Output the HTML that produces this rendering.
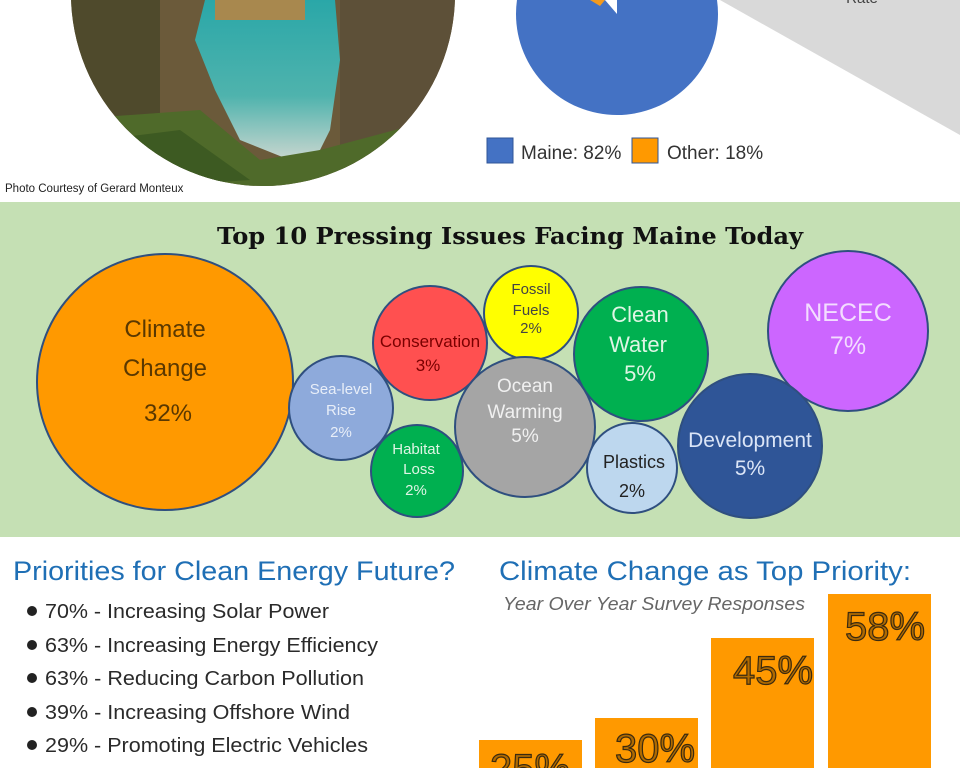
<!DOCTYPE html>
<html><head><meta charset="utf-8"><style>body{margin:0;background:#fff}svg{display:block}</style></head><body>
<svg width="960" height="768" viewBox="0 0 960 768" xmlns="http://www.w3.org/2000/svg">
<defs>
<clipPath id="ph"><circle cx="263" cy="-6" r="192"/></clipPath>
<linearGradient id="sea" x1="0" y1="0" x2="0" y2="1"><stop offset="0" stop-color="#2aa7a8"/><stop offset="0.6" stop-color="#4fb3ad"/><stop offset="1" stop-color="#c9d6cf"/></linearGradient>
</defs>
<rect width="960" height="768" fill="#fff"/>
<!-- photo -->
<g clip-path="url(#ph)">
<rect x="60" y="0" width="410" height="200" fill="#6b5a3a"/>
<rect x="60" y="0" width="100" height="200" fill="#4f4a2c"/>
<rect x="340" y="0" width="130" height="200" fill="#5d5038"/>
<polygon points="205,0 335,0 340,60 330,130 320,150 290,160 240,140 215,90 195,40" fill="url(#sea)"/>
<rect x="215" y="0" width="90" height="20" fill="#a8884e"/>
<polygon points="60,120 200,110 260,160 320,150 470,110 470,200 60,200" fill="#4f6a2a"/>
<polygon points="100,140 180,130 250,180 100,190" fill="#3d5a22"/>
</g>
<!-- pie -->
<circle cx="617" cy="14" r="101" fill="#4472c4"/>
<polygon points="605,0 617,14 617,0" fill="#fff"/>
<polygon points="590,0 605,0 600,6" fill="#f39a1e"/>
<polygon points="720,0 960,0 960,135" fill="#d9d9d9"/>
<text x="862" y="3" font-family="Liberation Sans Narrow, Liberation Sans, sans-serif" font-size="15" fill="#444" text-anchor="middle">Rate</text>
<rect x="487" y="138" width="26" height="25" fill="#4472c4" stroke="#2f5597"/>
<text x="521" y="159" font-family="Liberation Sans Narrow, Liberation Sans, sans-serif" font-size="19" fill="#333">Maine: 82%</text>
<rect x="632" y="138" width="26" height="25" fill="#ff9900" stroke="#2f5597"/>
<text x="667" y="159" font-family="Liberation Sans Narrow, Liberation Sans, sans-serif" font-size="19" fill="#333">Other: 18%</text>
<text x="5" y="192" font-family="Liberation Sans Narrow, Liberation Sans, sans-serif" font-size="11.5" fill="#222">Photo Courtesy of Gerard Monteux</text>
<!-- bubble band -->
<rect x="0" y="202" width="960" height="335" fill="#c5e0b4"/>
<text x="510" y="244" font-family="DejaVu Serif, Liberation Serif, serif" font-weight="bold" font-size="23" fill="#111" text-anchor="middle" textLength="586" lengthAdjust="spacingAndGlyphs">Top 10 Pressing Issues Facing Maine Today</text>
<g stroke="#2f4f7f" stroke-width="2" font-family="Liberation Sans Narrow, Liberation Sans, sans-serif" text-anchor="middle">
<circle cx="165" cy="382" r="128" fill="#ff9900"/>
<circle cx="341" cy="408" r="52" fill="#8eaadb"/>
<circle cx="430" cy="343" r="57" fill="#ff5050"/>
<circle cx="531" cy="313" r="47" fill="#ffff00"/>
<circle cx="641" cy="354" r="67" fill="#00b050"/>
<circle cx="848" cy="331" r="80" fill="#cc66ff"/>
<circle cx="525" cy="427" r="70" fill="#a5a5a5"/>
<circle cx="417" cy="471" r="46" fill="#00b050"/>
<circle cx="632" cy="468" r="45" fill="#bdd7ee"/>
<circle cx="750" cy="446" r="72" fill="#2f5597"/>
</g>
<g font-family="Liberation Sans Narrow, Liberation Sans, sans-serif" text-anchor="middle">
<g fill="#5a3800" font-size="24"><text x="165" y="337">Climate</text><text x="165" y="376">Change</text><text x="168" y="421">32%</text></g>
<g fill="#e8eef8" font-size="15"><text x="341" y="394">Sea-level</text><text x="341" y="415">Rise</text><text x="341" y="437">2%</text></g>
<g fill="#7a0000" font-size="17"><text x="430" y="347">Conservation</text><text x="428" y="371">3%</text></g>
<g fill="#444" font-size="15"><text x="531" y="294">Fossil</text><text x="531" y="315">Fuels</text><text x="531" y="333">2%</text></g>
<g fill="#dff5e5" font-size="22"><text x="640" y="322">Clean</text><text x="638" y="352">Water</text><text x="640" y="381">5%</text></g>
<g fill="#f3ddff" font-size="25"><text x="848" y="321">NECEC</text><text x="848" y="354">7%</text></g>
<g fill="#f0f0f0" font-size="19"><text x="525" y="392">Ocean</text><text x="525" y="418">Warming</text><text x="525" y="442">5%</text></g>
<g fill="#dff5e5" font-size="15"><text x="416" y="454">Habitat</text><text x="419" y="474">Loss</text><text x="416" y="495">2%</text></g>
<g fill="#222" font-size="18"><text x="634" y="468">Plastics</text><text x="632" y="497">2%</text></g>
<g fill="#dbe5f7" font-size="21"><text x="750" y="447">Development</text><text x="750" y="475">5%</text></g>
</g>
<!-- bottom left -->
<text x="13" y="580" font-family="Liberation Sans, sans-serif" font-size="27" fill="#1f6fb5" textLength="442" lengthAdjust="spacingAndGlyphs">Priorities for Clean Energy Future?</text>
<g font-family="Liberation Sans, sans-serif" font-size="20" fill="#2a2a2a">
<circle cx="32" cy="611" r="5" fill="#222"/><text x="45" y="618" textLength="284" lengthAdjust="spacingAndGlyphs">70% - Increasing Solar Power</text>
<circle cx="32" cy="645" r="5" fill="#222"/><text x="45" y="652" textLength="333" lengthAdjust="spacingAndGlyphs">63% - Increasing Energy Efficiency</text>
<circle cx="32" cy="678" r="5" fill="#222"/><text x="45" y="685" textLength="319" lengthAdjust="spacingAndGlyphs">63% - Reducing Carbon Pollution</text>
<circle cx="32" cy="712" r="5" fill="#222"/><text x="45" y="719" textLength="305" lengthAdjust="spacingAndGlyphs">39% - Increasing Offshore Wind</text>
<circle cx="32" cy="745" r="5" fill="#222"/><text x="45" y="752" textLength="323" lengthAdjust="spacingAndGlyphs">29% - Promoting Electric Vehicles</text>
</g>
<!-- bottom right -->
<text x="499" y="580" font-family="Liberation Sans, sans-serif" font-size="27" fill="#1f6fb5" textLength="412" lengthAdjust="spacingAndGlyphs">Climate Change as Top Priority:</text>
<text x="503" y="610" font-family="Liberation Sans, sans-serif" font-style="italic" font-size="18" fill="#666" textLength="302" lengthAdjust="spacingAndGlyphs">Year Over Year Survey Responses</text>
<g fill="#ff9900">
<rect x="479" y="740" width="103" height="28"/>
<rect x="595" y="718" width="103" height="50"/>
<rect x="711" y="638" width="103" height="130"/>
<rect x="828" y="594" width="103" height="174"/>
</g>
<g font-family="Liberation Sans, sans-serif" font-size="40" fill="#b06a00" stroke="#3a2a10" stroke-width="1.2" text-anchor="middle">
<text x="530" y="782">25%</text>
<text x="655" y="762">30%</text>
<text x="773" y="684">45%</text>
<text x="885" y="640">58%</text>
</g>
</svg>
</body></html>
